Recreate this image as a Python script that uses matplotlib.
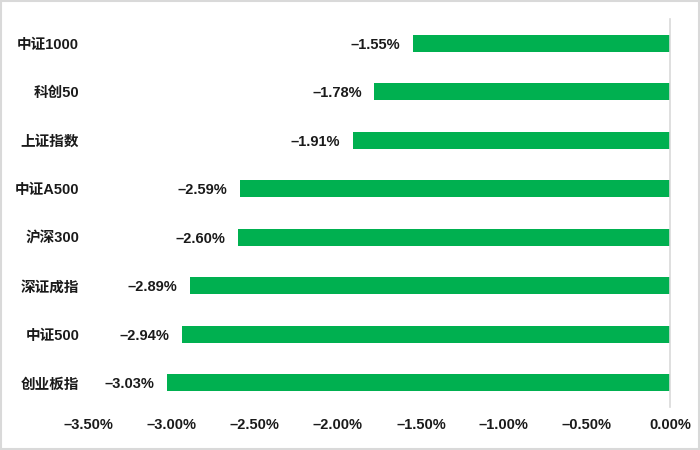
import matplotlib.pyplot as plt
import matplotlib.patches as patches
from matplotlib.ticker import FuncFormatter

# Latin glyphs from Liberation Sans, Chinese from Noto CJK
plt.rcParams['font.family'] = ['Liberation Sans', 'Noto Sans CJK SC', 'DejaVu Sans']

categories = ["中证1000", "科创50", "上证指数", "中证A500", "沪深300", "深证成指", "中证500", "创业板指"]
changes = [-1.55, -1.78, -1.91, -2.59, -2.60, -2.89, -2.94, -3.03]
x_ticks = [-3.5, -3.0, -2.5, -2.0, -1.5, -1.0, -0.5, 0.0]

bar_color = "#00B050"
text_color = "#1a1a1a"


def pct(v):
    return f"{v:.2f}%".replace("-", "–")


fig = plt.figure(figsize=(7, 4.5), dpi=100)
ax = fig.add_axes([0.127, 0.095, 0.83, 0.863])

ypos = list(range(len(categories)))
ax.barh(ypos, changes, height=0.35, color=bar_color)

# value labels left of each bar end
for y, v in zip(ypos, changes):
    ax.text(v - 0.075, y, pct(v), ha="right", va="center_baseline",
            fontsize=10.5, fontweight="bold", color=text_color)

ax.set_xlim(-3.5, 0)
ax.set_ylim(len(categories) - 0.5, -0.5)
ax.set_yticks(ypos)
ax.set_yticklabels(categories, fontsize=10.5, fontweight="bold", color=text_color)
ax.set_xticks(x_ticks)
ax.xaxis.set_major_formatter(FuncFormatter(lambda v, p: pct(v)))
for lab in ax.get_xticklabels():
    lab.set_fontweight("bold")
    lab.set_fontsize(10.5)
    lab.set_color(text_color)

ax.tick_params(axis="both", length=0)
ax.tick_params(axis="y", pad=7)
ax.tick_params(axis="x", pad=8)
for side in ["top", "left", "bottom"]:
    ax.spines[side].set_visible(False)
ax.spines["right"].set_color("#d9d9d9")
ax.spines["right"].set_linewidth(1.2)

# light gray frame round the whole picture
fig.patches.append(patches.Rectangle((0.002, 0.003), 0.996, 0.994, transform=fig.transFigure,
                                     fill=False, edgecolor="#d9d9d9", linewidth=1.5))

fig.savefig("out.png", dpi=100)
